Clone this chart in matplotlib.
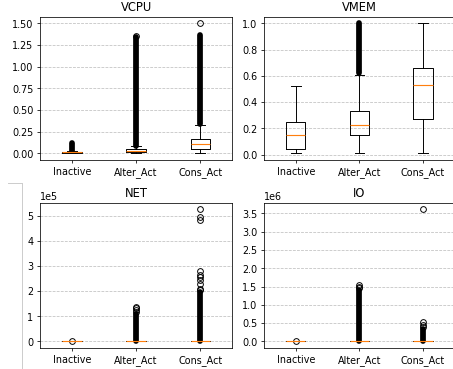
import matplotlib
matplotlib.use("Agg")
import matplotlib.pyplot as plt
from matplotlib.lines import Line2D
from matplotlib.ticker import MultipleLocator

groups = ["Inactive", "Alter_Act", "Cons_Act"]
titles = ["VCPU", "VMEM", "NET", "IO"]

# box stats per metric: (whislo, q1, med, q3, whishi) for each group
vcpu_stats = [(0.0, 0.005, 0.01, 0.015, 0.025),
              (0.0, 0.012, 0.025, 0.045, 0.08),
              (0.0, 0.055, 0.11, 0.17, 0.33)]
vmem_stats = [(0.01, 0.043, 0.147, 0.248, 0.52),
              (0.01, 0.15, 0.225, 0.334, 0.608),
              (0.01, 0.27, 0.53, 0.663, 1.0)]
net_stats = [(0, 0, 0, 0, 0),
             (0, 0, 0, 0, 0),
             (0, 0, 0, 0, 0)]
io_stats = [(0, 0, 0, 0, 0),
            (0, 0, 0, 0, 0),
            (0, 0, 0, 0, 0)]

# dense runs of outliers (so many points they merge): (lowest, highest)
vcpu_dense = [(0.03, 0.12), (0.09, 1.34), (0.34, 1.36)]
vmem_dense = [None, (0.62, 1.0), None]
net_dense = [None, (0, 110000), (0, 195000)]
io_dense = [None, (0, 1400000), (0, 330000)]

# separate outliers
vcpu_fliers = [[], [1.35], [1.50]]
vmem_fliers = [[], [], []]
net_fliers = [
    [3000],
    [117000, 125000, 131000, 136000],
    [205000, 210000, 230000, 245000, 255000, 265000, 282000,
     485000, 495000, 525000],
]
io_fliers = [
    [20000],
    [1450000, 1500000, 1540000],
    [400000, 450000, 520000, 3610000],
]

all_stats = [vcpu_stats, vmem_stats, net_stats, io_stats]
all_dense = [vcpu_dense, vmem_dense, net_dense, io_dense]
all_fliers = [vcpu_fliers, vmem_fliers, net_fliers, io_fliers]

W, H = 453, 369
fig = plt.figure(figsize=((W + 0.3) / 69, (H + 0.3) / 69), dpi=69)

# axes rectangles in pixels: left, top, width, height
rects = [(40, 17, 192, 143), (264, 17, 190.5, 143),
         (40, 203, 192, 145), (264, 203, 190.5, 145)]

positions = [1, 2, 3]
for i in range(4):
    l, t, w, h = rects[i]
    ax = fig.add_axes([l / W, 1 - (t + h) / H, w / W, h / H])

    for j, run in enumerate(all_dense[i]):
        if run is not None:
            ax.plot([positions[j], positions[j]], list(run), color="black",
                    lw=6, solid_capstyle="round")

    stats = []
    for j, g in enumerate(groups):
        lo, q1, med, q3, hi = all_stats[i][j]
        stats.append({"label": g, "whislo": lo, "q1": q1, "med": med,
                      "q3": q3, "whishi": hi, "fliers": all_fliers[i][j]})
    ax.bxp(stats, positions=positions,
           medianprops={"color": "#ff7f0e", "linewidth": 1.2})
    ax.set_title(titles[i])
    ax.yaxis.grid(True, linestyle="--", color="#b0b0b0", alpha=0.8)
    ax.set_axisbelow(True)
    if i >= 2:
        ax.ticklabel_format(axis="y", style="sci", scilimits=(0, 0))
    if i == 3:
        ax.yaxis.set_major_locator(MultipleLocator(0.5e6))

# thin grey bracket at the left edge
fig.add_artist(Line2D([22 / W, 22 / W], [1 - 183 / H, 0], color="#cccccc",
                      lw=1, transform=fig.transFigure))
fig.add_artist(Line2D([8 / W, 22 / W], [1 - 183 / H, 1 - 183 / H],
                      color="#cccccc", lw=1, transform=fig.transFigure))

fig.savefig("out.png", dpi=69)
